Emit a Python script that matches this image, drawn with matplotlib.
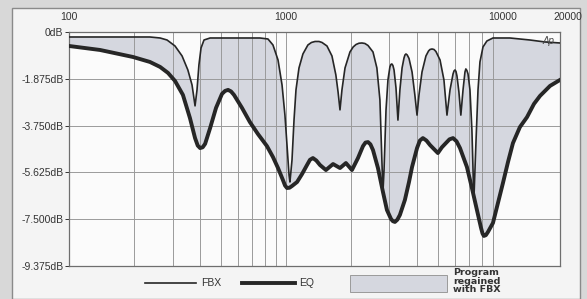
import numpy as np
import matplotlib
matplotlib.use("Agg")
import matplotlib.pyplot as plt
from matplotlib.lines import Line2D
from matplotlib.patches import Rectangle, Polygon
from matplotlib.transforms import blended_transform_factory

plt.rcParams["font.family"] = ["Liberation Sans", "DejaVu Sans"]

# ── Data: (frequency Hz, level dB) ───────────────────────────────────────────
fbx_points = [
    (100, -0.20), (172, -0.20), (236, -0.20), (263, -0.24), (283, -0.32),
    (308, -0.56), (332, -0.96), (353, -1.52), (369, -2.12), (381, -2.96),
    (389, -2.32), (397, -1.32), (406, -0.64), (419, -0.32), (447, -0.24),
    (759, -0.24), (826, -0.28), (871, -0.52), (919, -1.12), (959, -2.12),
    (989, -3.33), (1011, -4.53), (1033, -5.73), (1043, -6.01), (1066, -5.13),
    (1089, -3.53), (1112, -2.32), (1148, -1.44), (1197, -0.88), (1262, -0.52),
    (1310, -0.42), (1361, -0.38), (1420, -0.38), (1466, -0.42), (1545, -0.56),
    (1629, -0.96), (1698, -1.72), (1738, -2.40), (1774, -3.12), (1811, -2.32),
    (1871, -1.44), (1972, -0.80), (2040, -0.60), (2103, -0.50), (2170, -0.45),
    (2239, -0.44), (2310, -0.46), (2388, -0.54), (2518, -0.80), (2624, -1.44),
    (2710, -2.72), (2767, -5.13), (2799, -6.41), (2831, -5.53), (2891, -3.12),
    (2951, -1.92), (3013, -1.40), (3045, -1.30), (3076, -1.28), (3110, -1.34),
    (3148, -1.52), (3214, -2.24), (3281, -3.53), (3350, -2.32), (3428, -1.44),
    (3499, -1.04), (3535, -0.92), (3573, -0.88), (3620, -0.92), (3690, -1.06),
    (3811, -1.60), (3926, -2.52), (4018, -3.33), (4102, -2.52), (4236, -1.60),
    (4416, -0.96), (4540, -0.76), (4613, -0.70), (4710, -0.68), (4810, -0.70),
    (4909, -0.78), (5129, -1.12), (5346, -1.92), (5521, -3.33), (5702, -2.32),
    (5888, -1.68), (5950, -1.56), (6012, -1.52), (6075, -1.58), (6138, -1.76),
    (6266, -2.40), (6397, -3.33), (6546, -2.32), (6683, -1.60), (6745, -1.48),
    (6820, -1.54), (6902, -1.68), (7047, -2.32), (7194, -3.93), (7345, -6.73),
    (7516, -4.33), (7674, -2.32), (7834, -1.20), (8091, -0.60), (8433, -0.36),
    (8995, -0.24), (10770, -0.24), (13300, -0.32), (15630, -0.40),
    (18320, -0.44),
]
eq_points = [
    (100, -0.56), (139, -0.72), (197, -1.00), (236, -1.20), (263, -1.40),
    (286, -1.64), (308, -1.96), (335, -2.52), (361, -3.45), (381, -4.25),
    (392, -4.55), (402, -4.65), (413, -4.62), (424, -4.48), (447, -3.85),
    (476, -3.04), (507, -2.48), (524, -2.36), (541, -2.32), (558, -2.38),
    (576, -2.52), (627, -3.04), (682, -3.61), (743, -4.09), (817, -4.57),
    (871, -5.01), (919, -5.45), (968, -5.93), (990, -6.15), (1011, -6.25),
    (1038, -6.24), (1066, -6.17), (1125, -6.01), (1186, -5.69), (1250, -5.33),
    (1290, -5.12), (1331, -5.05), (1380, -5.15), (1435, -5.33), (1528, -5.53),
    (1648, -5.29), (1774, -5.45), (1889, -5.25), (2014, -5.53), (2147, -5.05),
    (2265, -4.57), (2325, -4.43), (2388, -4.41), (2450, -4.50), (2518, -4.73),
    (2654, -5.45), (2799, -6.41), (2919, -7.13), (3048, -7.49), (3110, -7.58),
    (3177, -7.61), (3260, -7.52), (3350, -7.33), (3532, -6.73), (3690, -6.01),
    (3811, -5.41), (4018, -4.65), (4140, -4.35), (4276, -4.25), (4440, -4.35),
    (4613, -4.53), (5012, -4.85), (5230, -4.62), (5458, -4.45), (5670, -4.30),
    (5888, -4.25), (6110, -4.38), (6339, -4.65), (6823, -5.41), (7194, -6.25),
    (7586, -7.13), (7925, -7.85), (8050, -8.07), (8166, -8.17), (8340, -8.14),
    (8531, -8.01), (8995, -7.65), (9484, -6.85), (10000, -6.05), (10550, -5.21),
    (11120, -4.45), (11970, -3.81), (12910, -3.41), (13900, -2.88),
    (14820, -2.56), (16480, -2.16), (18320, -1.92),
]

y_ticks = [0, -1.875, -3.75, -5.625, -7.5, -9.375]
y_labels = ["0dB", "-1.875dB", "-3.750dB", "-5.625dB", "-7.500dB", "-9.375dB"]
x_ticks = [100, 1000, 10000]
x_labels = ["100", "1000", "10000"]
grid_freqs = [200, 300, 400, 500, 600, 700, 800, 900, 1000,
              2000, 3000, 4000, 5000, 6000, 7000, 8000, 9000]

fbx_freq, fbx_db = map(np.array, zip(*fbx_points))
eq_freq, eq_db = map(np.array, zip(*eq_points))

W, H = 587, 299
LINE = "#262626"
FILL = "#d5d7df"
TEXT = "#333333"


def fx(px):
    return px / W


def fy(py):
    return 1 - py / H


fig = plt.figure(figsize=(W / 100, H / 100), dpi=100)
fig.patch.set_facecolor("#d8d8d8")

# white paper panel behind the chart
fig.add_artist(Rectangle((fx(12), 0), fx(580) - fx(12), fy(8), transform=fig.transFigure,
                         facecolor="#f4f4f4", edgecolor="#8a8a8a", lw=1.0, zorder=0))

ax = fig.add_axes([fx(69), fy(266), fx(560) - fx(69), fy(32) - fy(266)])
ax.set_facecolor("#fbfbfb")
ax.set_xscale("log")
ax.set_xlim(100, 18320)
ax.set_ylim(-9.375, 0)

# shaded region between the two responses
poly = np.column_stack([np.r_[fbx_freq, eq_freq[::-1]], np.r_[fbx_db, eq_db[::-1]]])
ax.add_patch(Polygon(poly, closed=True, facecolor=FILL, edgecolor="none", zorder=1))

for f in grid_freqs:
    ax.axvline(f, color="#9a9a9a", lw=0.7, zorder=2)
for y in y_ticks[1:-1]:
    ax.axhline(y, color="#9a9a9a", lw=0.7, zorder=2)

ax.plot(fbx_freq, fbx_db, color=LINE, lw=1.2, zorder=3, solid_joinstyle="round")
ax.plot(eq_freq, eq_db, color=LINE, lw=2.8, zorder=4, solid_joinstyle="round")

ax.set_yticks(y_ticks)
ax.set_yticklabels(y_labels)
ax.xaxis.tick_top()
ax.set_xticks(x_ticks)
ax.set_xticklabels(x_labels)
ax.xaxis.set_minor_locator(matplotlib.ticker.NullLocator())
ax.tick_params(axis="x", length=0, pad=7, labelsize=7.5, colors=TEXT)
ax.tick_params(axis="y", length=3, width=0.7, pad=1, labelsize=7.5,
               colors=TEXT, direction="out")
for s in ax.spines.values():
    s.set_color("#6e6e6e")
    s.set_linewidth(0.9)

trans = blended_transform_factory(ax.transData, ax.transAxes)
ax.text(20000, 1 + 10 / 234, "20000", transform=trans, ha="center", va="bottom",
        fontsize=7.5, color=TEXT, clip_on=False)
ax.text(0.988, 0.985, "Ap", transform=ax.transAxes, ha="right", va="top",
        fontsize=7, style="italic", color="#444444", zorder=5)

# legend drawn by hand under the plot
fig.add_artist(Line2D([fx(145), fx(196)], [fy(283), fy(283)], transform=fig.transFigure,
                      color=LINE, lw=1.2))
fig.text(fx(201), fy(283), "FBX", ha="left", va="center", fontsize=7.5, color=TEXT)
fig.add_artist(Line2D([fx(242), fx(295)], [fy(283), fy(283)], transform=fig.transFigure,
                      color=LINE, lw=2.8))
fig.text(fx(299), fy(283), "EQ", ha="left", va="center", fontsize=7.5, color=TEXT)
fig.add_artist(Rectangle((fx(350), fy(292)), fx(447) - fx(350), fy(275) - fy(292),
                         transform=fig.transFigure, facecolor=FILL,
                         edgecolor="#9a9a9a", lw=0.7))
fig.text(fx(453), fy(281), "Program\nregained\nwith FBX", ha="left", va="center",
         fontsize=6.8, fontweight="bold", color=TEXT, linespacing=0.95,
         family="DejaVu Sans")

fig.savefig("out.png", dpi=100, facecolor=fig.get_facecolor())
